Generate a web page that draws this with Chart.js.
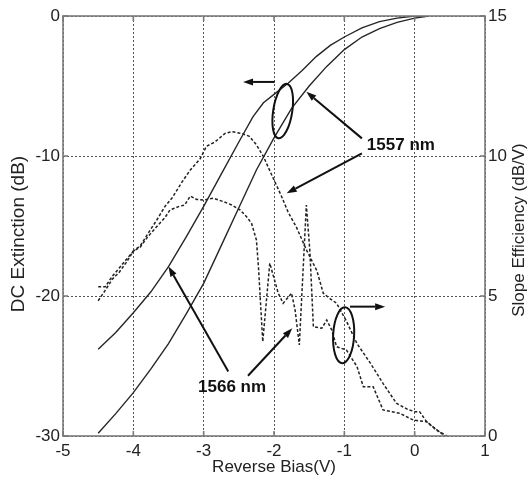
<!DOCTYPE html>
<html>
<head>
<meta charset="utf-8">
<script src="https://cdn.jsdelivr.net/npm/chart.js@4.4.1/dist/chart.umd.min.js"></script>
<style>
  html, body { margin: 0; padding: 0; background: #fff; }
  #wrap { width: 529px; height: 480px; position: relative; }
</style>
</head>
<body>
<div id="wrap"><canvas id="biasChart"></canvas></div>
<script>
// ── Data ────────────────────────────────────────────
// DC extinction (dB, left axis) – solid
const bias1566Dc = [-4.5, -4.25, -4.0, -3.75, -3.5, -3.25, -3.0, -2.75, -2.5, -2.3, -2.15, -2.0, -1.8, -1.6, -1.4, -1.2, -1.0, -0.75, -0.5, -0.25, 0, 0.2];
const dc1566 = [-23.8, -22.6, -21.2, -19.7, -17.9, -15.8, -13.6, -11.3, -9.0, -7.2, -6.2, -5.6, -4.8, -3.9, -2.9, -2.1, -1.5, -0.85, -0.4, -0.15, 0, 0];

const bias1557Dc = [-4.5, -4.25, -4.0, -3.75, -3.5, -3.25, -3.0, -2.75, -2.5, -2.25, -2.0, -1.75, -1.5, -1.25, -1.0, -0.75, -0.5, -0.25, 0, 0.2];
const dc1557 = [-29.8, -28.4, -26.9, -25.2, -23.4, -21.3, -19.1, -16.4, -13.7, -11.0, -8.7, -6.6, -5.0, -3.6, -2.4, -1.5, -0.9, -0.45, -0.15, 0];

// Slope efficiency (dB/V, right axis) – dashed
const bias1557Slope = [-4.5, -4.4, -4.3, -4.2, -4.1, -4.0, -3.9, -3.8, -3.67, -3.55, -3.45, -3.3, -3.19, -3.05, -2.96, -2.84, -2.7, -2.6, -2.45, -2.35, -2.25, -2.15, -2.01, -1.9, -1.8, -1.68, -1.53, -1.39, -1.3, -1.2, -1.11, -0.97, -0.82, -0.63, -0.45, -0.26, -0.1, 0.0, 0.07, 0.17, 0.3, 0.43];
const slope1557 = [4.83, 5.2, 5.6, 5.85, 6.2, 6.6, 6.8, 7.2, 7.7, 8.2, 8.5, 9.1, 9.5, 9.9, 10.35, 10.5, 10.8, 10.87, 10.8, 10.7, 10.4, 9.98, 9.2, 8.6, 8.0, 7.45, 6.6, 5.9, 5.1, 4.9, 4.74, 4.1, 3.3, 2.6, 1.88, 1.17, 0.95, 0.87, 0.87, 0.51, 0.25, 0.0];

const bias1566Slope = [-4.5, -4.4, -4.3, -4.2, -4.1, -4.0, -3.9, -3.8, -3.67, -3.55, -3.48, -3.35, -3.27, -3.19, -3.1, -3.0, -2.86, -2.72, -2.6, -2.48, -2.39, -2.32, -2.25, -2.22, -2.16, -2.06, -1.94, -1.87, -1.75, -1.7, -1.64, -1.54, -1.49, -1.44, -1.32, -1.25, -1.18, -1.11, -0.97, -0.82, -0.73, -0.59, -0.45, -0.21, -0.02, 0.17, 0.31, 0.46];
const slope1566 = [5.33, 5.33, 5.7, 6.0, 6.3, 6.6, 6.75, 7.1, 7.47, 7.8, 8.07, 8.2, 8.25, 8.57, 8.45, 8.43, 8.49, 8.37, 8.25, 8.07, 7.83, 7.6, 7.0, 6.0, 3.37, 6.17, 5.1, 4.74, 5.1, 4.5, 3.25, 8.25, 6.6, 3.9, 3.85, 4.14, 3.79, 3.19, 3.07, 2.48, 1.76, 1.76, 0.93, 0.81, 0.57, 0.51, 0.21, 0.0];

// Axis ranges / ticks
const biasTicks = [-5, -4, -3, -2, -1, 0, 1];
const dcTicks = [-30, -20, -10, 0];
const slopeTicks = [0, 5, 10, 15];

// Annotations, in (bias V, DC dB) units
const arrowLines = [
  [-1.99, -4.71, -2.44, -4.71],
  [-0.75, -8.74, -1.54, -5.41],
  [-0.75, -9.81, -1.82, -12.66],
  [-2.65, -25.4, -3.50, -17.9],
  [-2.37, -25.7, -1.74, -22.3],
  [-0.92, -20.76, -0.42, -20.76],
];
const ellipseMarks = [
  { x: -1.876, y: -6.79, rx: 9.5, ry: 27.5, rot: 9 },
  { x: -1.01, y: -22.8, rx: 10.5, ry: 28, rot: 3 },
];
const wavelengthLabels = [
  { text: '1557 nm', x: -0.68, y: -9.21 },
  { text: '1566 nm', x: -3.08, y: -26.5 },
];

const pts = (xs, ys) => xs.map((x, i) => ({ x, y: ys[i] }));

const INK = '#262626';
const DASH_INK = '#222';
const FRAME = '#7a7a7a';
const FONT = 'Liberation Sans, Arial, sans-serif';

// ── Frame, inward ticks, annotations ────────────────
const overlayPlugin = {
  id: 'overlay',
  afterDatasetsDraw(chart) {
    const { ctx, chartArea: a, scales } = chart;
    const sx = scales.x, sl = scales.yL, sr = scales.yR;

    ctx.save();
    // frame
    ctx.strokeStyle = FRAME;
    ctx.lineWidth = 1.6;
    ctx.strokeRect(a.left, a.top, a.right - a.left, a.bottom - a.top);

    // inward ticks
    ctx.beginPath();
    biasTicks.forEach(v => {
      const px = sx.getPixelForValue(v);
      ctx.moveTo(px, a.bottom); ctx.lineTo(px, a.bottom - 5);
      ctx.moveTo(px, a.top); ctx.lineTo(px, a.top + 5);
    });
    dcTicks.forEach(v => {
      const py = sl.getPixelForValue(v);
      ctx.moveTo(a.left, py); ctx.lineTo(a.left + 5, py);
    });
    slopeTicks.forEach(v => {
      const py = sr.getPixelForValue(v);
      ctx.moveTo(a.right, py); ctx.lineTo(a.right - 5, py);
    });
    ctx.stroke();

    // arrows
    ctx.strokeStyle = '#111';
    ctx.fillStyle = '#111';
    ctx.lineWidth = 2;
    arrowLines.forEach(([x1, y1, x2, y2]) => {
      const p1x = sx.getPixelForValue(x1), p1y = sl.getPixelForValue(y1);
      const p2x = sx.getPixelForValue(x2), p2y = sl.getPixelForValue(y2);
      const ang = Math.atan2(p2y - p1y, p2x - p1x);
      const head = 10, half = 3.5;
      const bx = p2x - head * Math.cos(ang), by = p2y - head * Math.sin(ang);
      ctx.beginPath();
      ctx.moveTo(p1x, p1y);
      ctx.lineTo(bx, by);
      ctx.stroke();
      ctx.beginPath();
      ctx.moveTo(p2x, p2y);
      ctx.lineTo(bx + half * Math.sin(ang), by - half * Math.cos(ang));
      ctx.lineTo(bx - half * Math.sin(ang), by + half * Math.cos(ang));
      ctx.closePath();
      ctx.fill();
    });

    // ellipses
    ctx.lineWidth = 2;
    ellipseMarks.forEach(e => {
      ctx.beginPath();
      ctx.ellipse(sx.getPixelForValue(e.x), sl.getPixelForValue(e.y), e.rx, e.ry, e.rot * Math.PI / 180, 0, Math.PI * 2);
      ctx.stroke();
    });

    // wavelength labels
    ctx.font = 'bold 17px ' + FONT;
    ctx.textAlign = 'left';
    ctx.textBaseline = 'middle';
    wavelengthLabels.forEach(l => {
      ctx.fillText(l.text, sx.getPixelForValue(l.x), sl.getPixelForValue(l.y));
    });

    // axis titles on the sides, both reading bottom-to-top
    ctx.fillStyle = '#222';
    ctx.textAlign = 'center';
    ctx.save();
    ctx.font = '19px ' + FONT;
    ctx.translate(19, 234);
    ctx.rotate(-Math.PI / 2);
    ctx.fillText('DC Extinction (dB)', 0, 0);
    ctx.restore();

    ctx.font = '17px ' + FONT;
    ctx.translate(519, 230);
    ctx.rotate(-Math.PI / 2);
    ctx.fillText('Slope Efficiency (dB/V)', 0, 0);
    ctx.restore();
  },
};

const tickFont = { family: FONT, size: 17 };

new Chart(document.getElementById('biasChart').getContext('2d'), {
  type: 'line',
  data: {
    datasets: [
      { label: '1566 nm DC', data: pts(bias1566Dc, dc1566), yAxisID: 'yL', borderColor: INK, borderWidth: 1.4 },
      { label: '1557 nm DC', data: pts(bias1557Dc, dc1557), yAxisID: 'yL', borderColor: INK, borderWidth: 1.4 },
      { label: '1557 nm slope', data: pts(bias1557Slope, slope1557), yAxisID: 'yR', borderColor: DASH_INK, borderWidth: 1.5, borderDash: [3, 2] },
      { label: '1566 nm slope', data: pts(bias1566Slope, slope1566), yAxisID: 'yR', borderColor: DASH_INK, borderWidth: 1.5, borderDash: [3, 2] },
    ],
  },
  options: {
    responsive: true,
    maintainAspectRatio: false,
    animation: false,
    layout: { padding: { top: 16, left: 0, right: 0, bottom: 0 } },
    elements: { point: { radius: 0 }, line: { tension: 0, fill: false } },
    plugins: { legend: { display: false }, tooltip: { enabled: false } },
    scales: {
      x: {
        type: 'linear',
        min: biasTicks[0],
        max: biasTicks[biasTicks.length - 1],
        afterBuildTicks: s => { s.ticks = biasTicks.map(v => ({ value: v })); },
        afterFit: s => { s.height = 44; },
        grid: { color: '#555', lineWidth: 1, drawTicks: false },
        border: { display: false, dash: [2, 2] },
        ticks: { color: '#222', font: tickFont, padding: 5, maxRotation: 0 },
        title: { display: true, text: 'Reverse Bias(V)', color: '#222', font: { family: FONT, size: 17 }, padding: { top: 0, bottom: 2 } },
      },
      yL: {
        position: 'left',
        min: -30,
        max: 0,
        afterBuildTicks: s => { s.ticks = dcTicks.map(v => ({ value: v })); },
        afterFit: s => { s.width = 63; },
        grid: { color: '#555', lineWidth: 1, drawTicks: false },
        border: { display: false, dash: [2, 2] },
        ticks: { color: '#222', font: tickFont, padding: 3 },
      },
      yR: {
        position: 'right',
        min: 0,
        max: 15,
        afterBuildTicks: s => { s.ticks = slopeTicks.map(v => ({ value: v })); },
        afterFit: s => { s.width = 44; },
        grid: { display: false, drawTicks: false },
        border: { display: false },
        ticks: { color: '#222', font: tickFont, padding: 3 },
      },
    },
  },
  plugins: [overlayPlugin],
});
</script>
</body>
</html>
